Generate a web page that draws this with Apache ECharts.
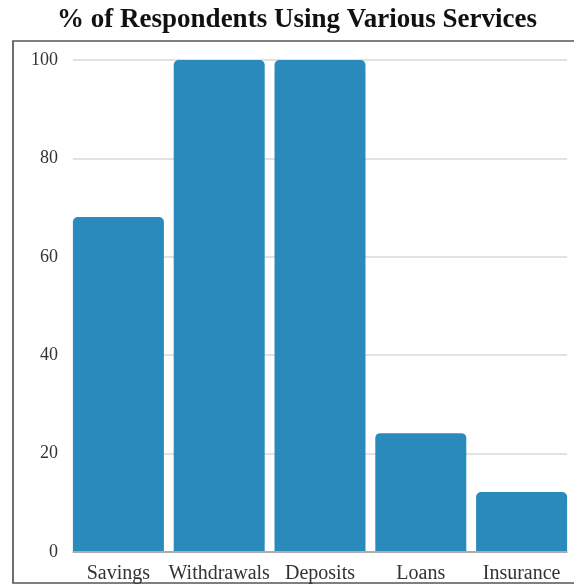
<!DOCTYPE html>
<html>
<head>
<meta charset="utf-8">
<style>
  html, body { margin: 0; padding: 0; background: #fff; }
  #chart { width: 574px; height: 584px; }
</style>
<script src="https://cdn.jsdelivr.net/npm/echarts@6/dist/echarts.min.js"></script>
</head>
<body>
<div id="chart"></div>
<script>
// Share of respondents using each service (%)
const categories = ['Savings', 'Withdrawals', 'Deposits', 'Loans', 'Insurance'];
const usagePct = [68, 100, 100, 24, 12];
const yTicks = [0, 20, 40, 60, 80, 100];
const chartTitle = '% of Respondents Using Various Services';

const serif = '"Liberation Serif", "Times New Roman", serif';
const chart = echarts.init(document.getElementById('chart'), null, { renderer: 'canvas' });

const option = {
  animation: false,
  backgroundColor: '#ffffff',
  graphic: [
    {
      type: 'rect',
      shape: { x: 13, y: 41, width: 570, height: 542 },
      style: { fill: 'none', stroke: '#555', lineWidth: 1.7 },
      z: 0
    },
    {
      type: 'text',
      x: 297,
      y: 7,
      style: {
        text: chartTitle,
        font: 'bold 27px ' + serif,
        fill: '#111',
        textAlign: 'center',
        textVerticalAlign: 'top'
      }
    }
  ],
  grid: [
    // value axis and gridlines span the bars' outer edges
    { left: 73, right: 7, top: 60, bottom: 32, containLabel: false },
    // bar band
    { left: 68, right: 2, top: 60, bottom: 32, containLabel: false }
  ],
  xAxis: [
    {
      type: 'category',
      gridIndex: 0,
      data: categories,
      axisLine: { show: true, lineStyle: { color: '#9a9a9a', width: 1.5 } },
      axisTick: { show: false },
      axisLabel: { show: false },
      splitLine: { show: false }
    },
    {
      type: 'category',
      gridIndex: 1,
      data: categories,
      boundaryGap: true,
      axisLine: { show: false },
      axisTick: { show: false },
      axisLabel: {
        fontFamily: serif,
        fontSize: 20,
        color: '#333',
        margin: 13,
        interval: 0
      }
    }
  ],
  yAxis: [
    {
      type: 'value',
      gridIndex: 0,
      min: yTicks[0],
      max: yTicks[yTicks.length - 1],
      interval: yTicks[1] - yTicks[0],
      axisLine: { show: false },
      axisTick: { show: false },
      axisLabel: {
        fontFamily: serif,
        fontSize: 18,
        color: '#333',
        margin: 15
      },
      splitLine: { show: true, lineStyle: { color: '#d9d9d9', width: 1.5 } }
    },
    {
      type: 'value',
      gridIndex: 1,
      min: yTicks[0],
      max: yTicks[yTicks.length - 1],
      show: false,
      splitLine: { show: false }
    }
  ],
  series: [
    {
      type: 'bar',
      xAxisIndex: 1,
      yAxisIndex: 1,
      data: usagePct,
      barWidth: 91,
      itemStyle: { color: '#2b8abc', borderRadius: [5, 5, 0, 0] },
      z: 3
    }
  ]
};

chart.setOption(option);
</script>
</body>
</html>
